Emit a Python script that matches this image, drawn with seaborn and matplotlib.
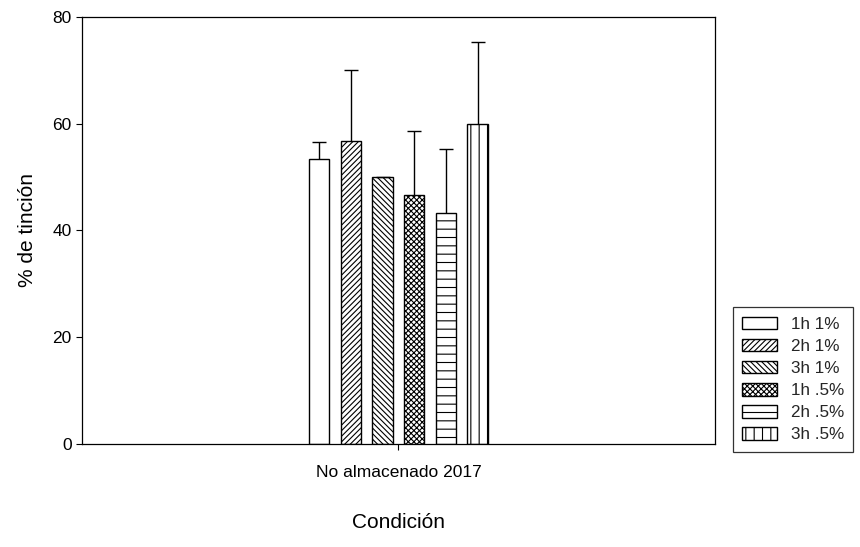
import numpy as np
import pandas as pd
import matplotlib
matplotlib.use("Agg")
import matplotlib.pyplot as plt
import seaborn as sns

# ─── Data ─────────────────────────────────────────────────────────────
condiciones = ["No almacenado 2017"]
tratamientos = ["1h 1%", "2h 1%", "3h 1%", "1h .5%", "2h .5%", "3h .5%"]
medias = [53.3, 56.7, 50.0, 46.7, 43.3, 60.0]
desv = [3.3, 13.3, 0.0, 12.0, 12.0, 15.3]
hatches = ["", "//////", "\\\\\\\\\\\\", "xxxxxx", "--", "||"]

df = pd.DataFrame({
    "Condición": condiciones * len(tratamientos),
    "Tratamiento": tratamientos,
    "Tincion": medias,
})

sns.set_theme(style="white")
plt.rcParams["font.family"] = ["Liberation Sans", "DejaVu Sans"]
plt.rcParams["hatch.linewidth"] = 0.8

fig = plt.figure(figsize=(8.6, 5.47), dpi=100)
ax = fig.add_axes([0.0953, 0.1883, 0.7360, 0.7807])

sns.barplot(
    data=df, x="Condición", y="Tincion", hue="Tratamiento",
    hue_order=tratamientos, palette=["white"] * len(tratamientos),
    width=0.30, gap=0.36, errorbar=None, edgecolor="black",
    linewidth=1.0, ax=ax,
)

bars = ax.patches[:len(tratamientos)]
for bar, h in zip(bars, hatches):
    bar.set_hatch(h)

# upper-only error bars (hide the cap at the bar top)
xs = [b.get_x() + b.get_width() / 2 for b in bars]
eb = ax.errorbar(xs, medias, yerr=[np.zeros(len(desv)), desv], fmt="none",
                 ecolor="black", elinewidth=1.0, capsize=5, capthick=1.0)
caps = eb[1]
if len(caps) == 2:
    caps[0].set_visible(False)

ax.set_xlim(-0.5, 0.5)
ax.set_ylim(0, 80)
ax.set_yticks([0, 20, 40, 60, 80])
ax.set_xlabel("Condición", fontsize=15, labelpad=24, color="black")
ax.set_ylabel("% de tinción", fontsize=15, labelpad=11, color="black")
ax.tick_params(axis="both", labelsize=12.5, colors="black", length=4,
               width=0.8, direction="out", left=True, bottom=True)
ax.tick_params(axis="x", pad=11)
for s in ax.spines.values():
    s.set_color("black")
    s.set_linewidth(0.9)

handles, labels = ax.get_legend_handles_labels()
for hnd, h in zip(handles, hatches):
    hnd.set_hatch(h)
leg = ax.legend(handles, labels, loc="center left",
                bbox_to_anchor=(1.028, 0.151), frameon=True, fancybox=False,
                edgecolor="black", fontsize=12.3, handlelength=2.05,
                handleheight=0.76, labelspacing=0.4, borderpad=0.55,
                handletextpad=0.8, borderaxespad=0)
leg.get_frame().set_linewidth(0.9)

plt.savefig("out.png", dpi=100)
plt.close()
